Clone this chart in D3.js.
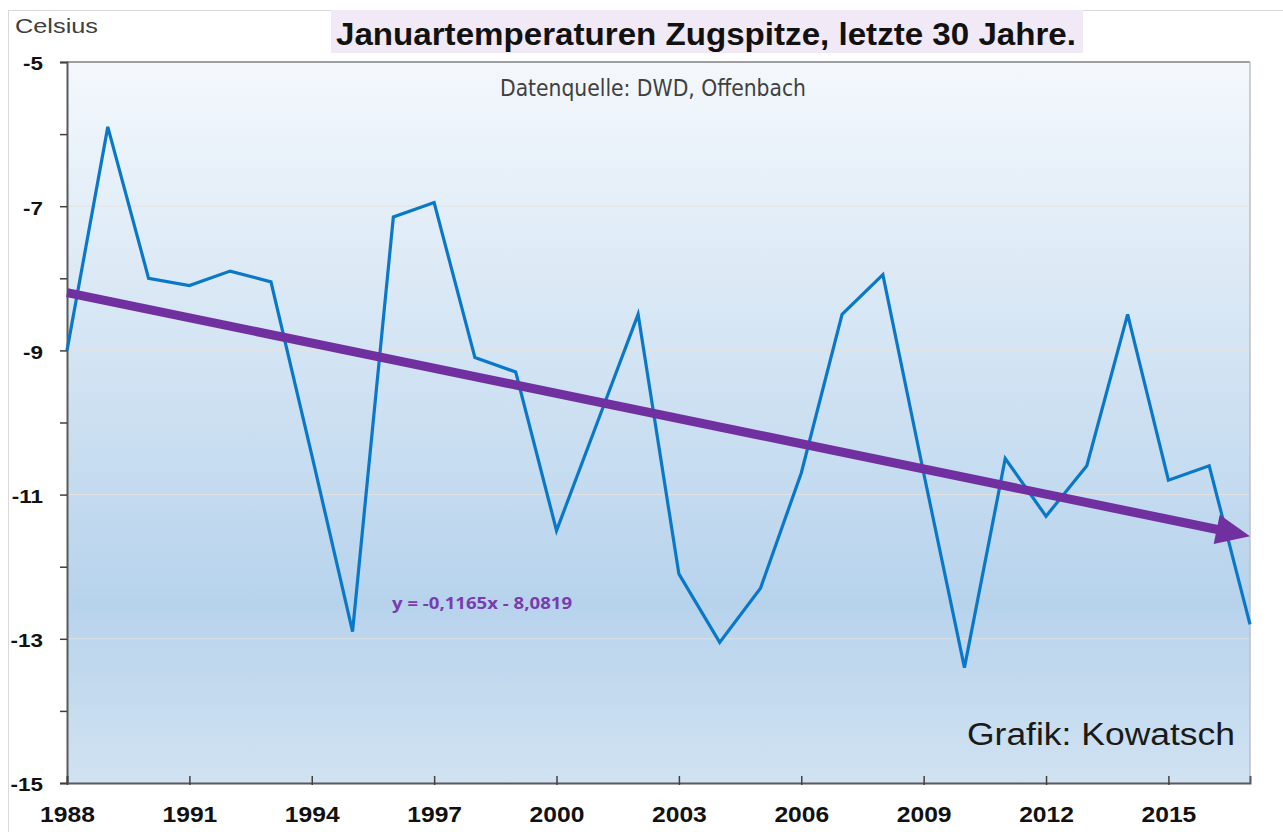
<!DOCTYPE html>
<html>
<head>
    <title>Januartemperaturen Zugspitze</title>
    <script src="https://d3js.org/d3.v7.min.js"></script>
    <style>
        body { margin: 0; background: #fff; }
        svg { display: block; }
    </style>
</head>
<body>
    <svg width="1283" height="832"></svg>

    <script>
    // data
    const years = [1988, 1989, 1990, 1991, 1992, 1993, 1994, 1995, 1996, 1997,
                   1998, 1999, 2000, 2001, 2002, 2003, 2004, 2005, 2006, 2007,
                   2008, 2009, 2010, 2011, 2012, 2013, 2014, 2015, 2016, 2017];
    const temps = [-9.0, -5.9, -8.0, -8.1, -7.9, -8.05, -10.45, -12.9, -7.15, -6.95,
                   -9.1, -9.3, -11.5, -10.0, -8.5, -12.1, -13.05, -12.3, -10.7, -8.5,
                   -7.95, -10.7, -13.4, -10.5, -11.3, -10.6, -8.5, -10.8, -10.6, -12.8];
    const yTicks = [-5, -7, -9, -11, -13, -15];
    const xTicks = [1988, 1991, 1994, 1997, 2000, 2003, 2006, 2009, 2012, 2015];
    const trendSlope = -0.1165, trendIntercept = -8.0819;

    const svg = d3.select("svg");
    const margin = {left: 67, right: 33, top: 62, bottom: 49};
    const W = 1283, H = 832;
    const arial = "Arial, 'Liberation Sans', sans-serif";

    const x = d3.scaleLinear().domain([1988, 2017]).range([margin.left, W - margin.right]);
    const y = d3.scaleLinear().domain([-15, -5]).range([H - margin.bottom, margin.top]);

    // outer frame
    svg.append("rect")
        .attr("x", 8.5).attr("y", 10.5).attr("width", 1280).attr("height", 830)
        .style("fill", "none").style("stroke", "#d9d9d9");

    // background gradient
    const defs = svg.append("defs");
    const grad = defs.append("linearGradient").attr("id", "bg")
        .attr("x1", 0).attr("y1", 0).attr("x2", 0).attr("y2", 1);
    grad.append("stop").attr("offset", "0%").attr("stop-color", "#f4f8fc");
    grad.append("stop").attr("offset", "75%").attr("stop-color", "#b7d3ec");
    grad.append("stop").attr("offset", "100%").attr("stop-color", "#d0e2f2");

    svg.append("rect")
        .attr("x", x(1988)).attr("y", y(-5))
        .attr("width", x(2017) - x(1988)).attr("height", y(-15) - y(-5))
        .style("fill", "url(#bg)");

    // faint gridlines
    svg.append("g").selectAll("line")
        .data([-7, -9, -11, -13])
        .enter().append("line")
        .attr("x1", x(1988)).attr("x2", x(2017))
        .attr("y1", d => y(d)).attr("y2", d => y(d))
        .style("stroke", "#e2e2e2").style("stroke-width", 1);

    // plot border (top + right)
    svg.append("line")
        .attr("x1", x(1988)).attr("x2", x(2017)).attr("y1", y(-5)).attr("y2", y(-5))
        .style("stroke", "#7f7f7f").style("stroke-width", 1.5);
    svg.append("line")
        .attr("x1", x(2017)).attr("x2", x(2017)).attr("y1", y(-5)).attr("y2", y(-15))
        .style("stroke", "#bfbfbf").style("stroke-width", 1.5);

    // axes
    const yAxis = d3.axisLeft(y).tickValues(d3.range(-15, -4, 1)).tickSize(7)
        .tickFormat(d => yTicks.includes(d) ? d : "");
    const yg = svg.append("g").attr("transform", `translate(${x(1988)},0)`).call(yAxis);
    yg.select(".domain").style("stroke", "#595959").style("stroke-width", 2);
    yg.selectAll(".tick line").style("stroke", "#404040").style("stroke-width", 1.5);
    yg.selectAll(".tick text")
        .attr("x", 0).attr("dy", "0.36em")
        .attr("transform", "translate(-24,1) scale(1.18,1)")
        .style("font-family", arial)
        .style("font-size", "19px").style("font-weight", "bold").style("fill", "#111");

    const xAxis = d3.axisBottom(x).tickValues(xTicks).tickSize(-7).tickFormat(d3.format("d"));
    const xg = svg.append("g").attr("transform", `translate(0,${y(-15)})`).call(xAxis);
    xg.select(".domain").style("stroke", "#595959").style("stroke-width", 2);
    xg.selectAll(".tick line").attr("y2", -7).attr("y1", 2)
        .style("stroke", "#404040").style("stroke-width", 1.5);
    xg.selectAll(".tick text")
        .attr("y", 0).attr("dy", 0)
        .attr("transform", "translate(0,39) scale(1.12,1)")
        .style("font-family", arial)
        .style("font-size", "22px").style("font-weight", "bold").style("fill", "#111");

    // temperature line
    const line = d3.line().x((d, i) => x(years[i])).y(d => y(d));
    svg.append("path")
        .datum(temps)
        .attr("d", line)
        .style("fill", "none")
        .style("stroke", "#0a78c8")
        .style("stroke-width", 3.2)
        .style("stroke-linejoin", "miter");

    // trend arrow (y = slope*n + intercept, n = 1..30)
    const trend = (yr) => trendSlope * (yr - years[0] + 1) + trendIntercept;
    const x0 = x(1988), y0 = y(trend(1988));
    const x1 = x(2017), y1 = y(trend(2017));
    const ang = Math.atan2(y1 - y0, x1 - x0);
    const headLen = 34, headW = 15;
    const bx = x1 - headLen * Math.cos(ang), by = y1 - headLen * Math.sin(ang);
    svg.append("line")
        .attr("x1", x0).attr("y1", y0).attr("x2", bx + 2 * Math.cos(ang)).attr("y2", by + 2 * Math.sin(ang))
        .style("stroke", "#7030a0").style("stroke-width", 9);
    svg.append("polygon")
        .attr("points", [
            [x1, y1],
            [bx + headW * Math.sin(ang), by - headW * Math.cos(ang)],
            [bx - headW * Math.sin(ang), by + headW * Math.cos(ang)]
        ].map(p => p.join(",")).join(" "))
        .style("fill", "#7030a0");

    // texts
    function label(tx, ty, str, width, anchor) {
        return svg.append("text")
            .attr("x", tx).attr("y", ty)
            .attr("text-anchor", anchor || "start")
            .attr("textLength", width)
            .attr("lengthAdjust", "spacingAndGlyphs")
            .text(str);
    }

    svg.append("rect")
        .attr("x", 331).attr("y", 10).attr("width", 752).attr("height", 43)
        .style("fill", "#f1e9f5");
    label(336, 45, "Januartemperaturen Zugspitze, letzte 30 Jahre.", 740)
        .style("font-family", arial)
        .style("font-size", "31px").style("font-weight", "bold").style("fill", "#111");

    label(15, 33, "Celsius", 83)
        .style("font-family", arial)
        .style("font-size", "20px").style("fill", "#404040");

    label(500, 96, "Datenquelle: DWD, Offenbach", 306)
        .style("font-family", "'Liberation Sans Narrow', 'DejaVu Sans Condensed', sans-serif")
        .style("font-size", "23px").style("fill", "#404040");

    label(392, 609, "y = -0,1165x - 8,0819", 180)
        .style("font-family", "'Open Sans', Arial, sans-serif")
        .style("font-size", "16px").style("font-weight", "bold").style("fill", "#7a3bb0");

    label(967, 745, "Grafik: Kowatsch", 268)
        .style("font-family", arial)
        .style("font-size", "31px").style("fill", "#1a1a1a");
    </script>
</body>
</html>
